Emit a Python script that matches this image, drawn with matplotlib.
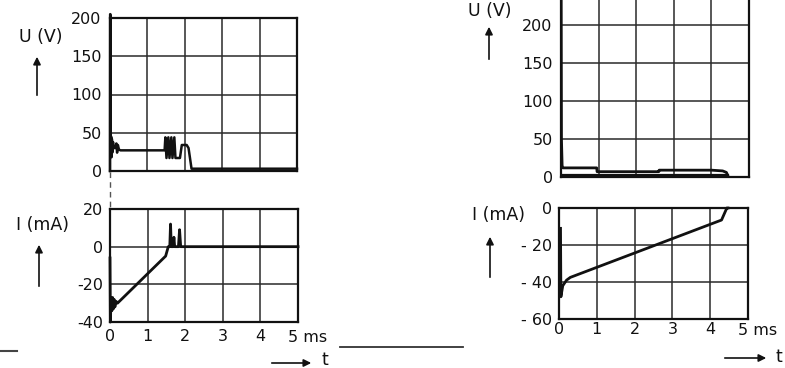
import matplotlib.pyplot as plt
from matplotlib.patches import FancyArrowPatch
from matplotlib.lines import Line2D

# ---- oscillogram traces (t in ms) ----
# left: voltage U (V)
t_u_left = [0.0, 0.004, 0.010, 0.020, 0.030, 0.040, 0.050, 0.060, 0.080, 0.100, 0.140,
            0.170, 0.190, 0.210, 0.240, 0.280, 1.460, 1.480, 1.510, 1.560, 1.590, 1.640,
            1.670, 1.720, 1.750, 1.870, 1.920, 2.050, 2.100, 2.180, 5.0]
u_left = [0, 205, 205, 22, 45, 18, 42, 24, 38, 30, 30,
          36, 24, 34, 28, 27, 27, 44, 17, 44, 17, 44,
          17, 44, 17, 17, 34, 34, 30, 3, 3]

# left: current I (mA)
t_i_left = [0.0, 0.010, 0.030, 0.050, 0.070, 0.090, 0.110, 0.130, 0.160, 0.200,
            1.480, 1.550, 1.590, 1.610, 1.630, 1.680, 1.700, 1.720, 1.820,
            1.850, 1.880, 5.0]
i_left = [-6, -40, -27, -34, -27, -33, -28, -32, -29, -30,
          -5, 0, 0, 12, 0, 0, 5, 0, 0,
          9, 0, 0]

# right: voltage U (V), upper and lower edge of the trace
t_u_right_hi = [0.0, 0.004, 0.012, 0.030, 0.050, 0.950, 0.960, 2.600, 2.610, 4.000,
                4.300, 4.400, 4.450]
u_right_hi = [262, 255, 50, 15, 12, 12, 7, 7, 9, 9, 8, 6, 0]
t_u_right_lo = [0.050, 4.450]
u_right_lo = [3, 3]

# right: current I (mA)
t_i_right = [0.040, 0.050, 0.100, 0.200, 0.300, 4.300, 4.440, 4.470]
i_right = [-11, -48, -42, -39, -37.5, -6.5, 0, 0]

x_ticks = [0, 1, 2, 3, 4, 5]
x_labels = ["0", "1", "2", "3", "4", ""]
u_ticks_left = [0, 50, 100, 150, 200]
i_ticks_left = [-40, -20, 0, 20]
i_labels_left = ["-40", "-20", "0", "20"]
u_ticks_right = [0, 50, 100, 150, 200, 250]
u_labels_right = ["0", "50", "100", "150", "200", ""]
i_ticks_right = [-60, -40, -20, 0]
i_labels_right = ["- 60", "- 40", "- 20", "0"]

W, H = 785, 368
plt.rcParams["font.family"] = ["DejaVu Sans"]
fig = plt.figure(figsize=(W / 100, H / 100), dpi=100)
fig.patch.set_facecolor("white")


def box(l, t, r, b):
    return [l / W, 1 - b / H, (r - l) / W, (b - t) / H]


def fx(x):
    return x / W


def fy(y):
    return 1 - y / H


INK = "#111111"
GRID = "#2a2a2a"


def style(ax, yticks, ylabels, ylim, show_x, ypad, xpad=6):
    ax.set_xlim(0, 5)
    ax.set_ylim(*ylim)
    ax.set_xticks(x_ticks)
    ax.set_yticks(yticks)
    ax.set_yticklabels(ylabels)
    if show_x:
        ax.set_xticklabels(x_labels)
    ax.grid(True, color=GRID, lw=1.1)
    ax.set_axisbelow(True)
    for s in ax.spines.values():
        s.set_linewidth(1.6)
        s.set_color(INK)
    ax.tick_params(length=0, labelsize=11.5, colors=INK, labelbottom=show_x)
    ax.tick_params(axis="y", pad=ypad)
    ax.tick_params(axis="x", pad=xpad)
    if show_x:
        ax.annotate("5 ms", xy=(5, 0), xycoords=ax.get_xaxis_transform(),
                    xytext=(-7, -xpad - 1), textcoords="offset points",
                    ha="left", va="top", fontsize=11.5, color=INK)


ax1 = fig.add_axes(box(110, 18, 297, 171))
ax1.plot(t_u_left, u_left, color=INK, lw=1.8, clip_on=False)
style(ax1, u_ticks_left, [str(v) for v in u_ticks_left], (0, 200), False, 6)

ax2 = fig.add_axes(box(110, 209, 298, 322))
ax2.plot(t_i_left, i_left, color=INK, lw=2.0, clip_on=False)
style(ax2, i_ticks_left, i_labels_left, (-40, 20), True, 5, 5)

ax3 = fig.add_axes(box(561, -13, 749, 177))
ax3.plot(t_u_right_hi, u_right_hi, color=INK, lw=2.0)
ax3.plot(t_u_right_lo, u_right_lo, color=INK, lw=1.6)
style(ax3, u_ticks_right, u_labels_right, (0, 250), False, 6)

ax4 = fig.add_axes(box(559, 208, 748, 319))
ax4.plot(t_i_right, i_right, color=INK, lw=2.0, clip_on=False)
style(ax4, i_ticks_right, i_labels_right, (-60, 0), True, 5, 2)

# quantity labels with upward arrows
arrow = dict(arrowstyle="-|>", color=INK, lw=1.2, mutation_scale=11)


def fig_arrow(x0, y0, x1, y1):
    fig.add_artist(FancyArrowPatch((fx(x0), fy(y0)), (fx(x1), fy(y1)),
                                   transform=fig.transFigure, **arrow))


fig.text(fx(41), fy(37), "U (V)", ha="center", va="center", fontsize=12.5, color=INK)
fig_arrow(37, 98, 37, 54)

fig.text(fx(42), fy(225), "I (mA)", ha="center", va="center", fontsize=12.5, color=INK)
fig_arrow(39, 289, 39, 242)

fig.text(fx(490), fy(11), "U (V)", ha="center", va="center", fontsize=12.5, color=INK)
fig_arrow(489, 62, 489, 24)

fig.text(fx(499), fy(215), "I (mA)", ha="center", va="center", fontsize=12.5, color=INK)
fig_arrow(490, 280, 490, 234)

# time axis arrows
fig_arrow(269, 363, 314, 363)
fig.text(fx(322), fy(360), "t", ha="left", va="center", fontsize=12.5, color=INK)
fig_arrow(722, 358, 769, 358)
fig.text(fx(776), fy(357), "t", ha="left", va="center", fontsize=12.5, color=INK)

# connecting marks
fig.add_artist(Line2D([fx(109.5), fx(109.5)], [fy(172), fy(208)], transform=fig.transFigure,
                      color="#555555", lw=1.0, ls=(0, (4, 3))))
fig.add_artist(Line2D([fx(340), fx(463)], [fy(347), fy(347)], transform=fig.transFigure,
                      color="#333333", lw=1.3))
fig.add_artist(Line2D([fx(0), fx(17)], [fy(351), fy(351)], transform=fig.transFigure,
                      color="#444444", lw=1.5))

fig.savefig("out.png", dpi=100, facecolor="white")
